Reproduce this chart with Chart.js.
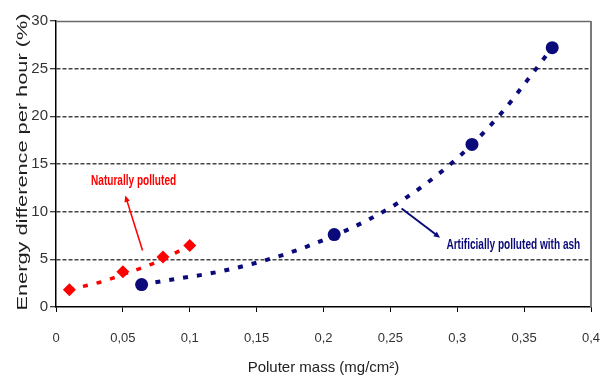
<!DOCTYPE html>
<html>
<head>
<meta charset="utf-8">
<script src="https://cdn.jsdelivr.net/npm/chart.js@4/dist/chart.umd.min.js"></script>
<style>
  html, body { margin: 0; padding: 0; background: #fff; }
  #wrap { width: 608px; height: 383px; position: relative; }
</style>
</head>
<body>
<div id="wrap"><canvas id="c"></canvas></div>
<script>
// Measured points: pollutant mass (mg/cm²) vs. hourly energy difference (%)
const naturalMass   = [0.01, 0.05, 0.08, 0.1];
const naturalEnergy = [1.8, 3.7, 5.25, 6.45];
const ashMass       = [0.064, 0.208, 0.311, 0.371];
const ashEnergy     = [2.35, 7.6, 17.05, 27.2];

// Trend curves through each series
const naturalTrendMass   = [0.01, 0.023, 0.034, 0.044, 0.055, 0.066, 0.078, 0.089, 0.1];
const naturalTrendEnergy = [1.8, 2.26, 2.64, 3.1, 3.65, 4.2, 4.88, 5.65, 6.45];
const ashTrendMass   = [0.064, 0.09, 0.12, 0.15, 0.18, 0.208, 0.23, 0.26, 0.29, 0.311, 0.334, 0.353, 0.371];
const ashTrendEnergy = [2.35, 2.95, 3.65, 4.65, 5.95, 7.5, 8.9, 11.3, 14.4, 17.05, 20.5, 23.9, 27.2];

// Axis ticks
const xTickLabels = ['0', '0,05', '0,1', '0,15', '0,2', '0,25', '0,3', '0,35', '0,4'];
const yTickLabels = ['0', '5', '10', '15', '20', '25', '30'];

const RED = '#ff0000';
const NAVY = '#0a0a7a';
const SANS = '"Liberation Sans", Arial, sans-serif';

const pairs = (xs, ys) => xs.map((v, i) => ({ x: v, y: ys[i] }));

// Callout labels with arrows, placed in data units
const notes = [
  { text: 'Naturally polluted', color: RED, width: 1.6,
    at: [0.058, 13.2], align: 'center', from: [0.0647, 5.93], to: [0.0518, 11.7] },
  { text: 'Artificially polluted with ash', color: NAVY, width: 2,
    at: [0.2919, 6.56], align: 'left', from: [0.2584, 10.34], to: [0.2872, 7.26] }
];

const calloutPlugin = {
  id: 'callouts',
  afterDatasetsDraw(chart) {
    const { ctx, scales: { x, y } } = chart;
    notes.forEach(n => {
      const x0 = x.getPixelForValue(n.from[0]), y0 = y.getPixelForValue(n.from[1]);
      const x1 = x.getPixelForValue(n.to[0]),   y1 = y.getPixelForValue(n.to[1]);
      const ang = Math.atan2(y1 - y0, x1 - x0);
      const head = 7, spread = 0.42;
      ctx.save();
      ctx.strokeStyle = n.color;
      ctx.fillStyle = n.color;
      ctx.lineWidth = n.width;
      ctx.beginPath();
      ctx.moveTo(x0, y0);
      ctx.lineTo(x1 - Math.cos(ang) * head * 0.7, y1 - Math.sin(ang) * head * 0.7);
      ctx.stroke();
      ctx.beginPath();
      ctx.moveTo(x1, y1);
      ctx.lineTo(x1 - head * Math.cos(ang - spread), y1 - head * Math.sin(ang - spread));
      ctx.lineTo(x1 - head * Math.cos(ang + spread), y1 - head * Math.sin(ang + spread));
      ctx.closePath();
      ctx.fill();
      // condensed, slightly tall label text
      ctx.translate(x.getPixelForValue(n.at[0]), y.getPixelForValue(n.at[1]));
      ctx.scale(0.84, 1.25);
      ctx.font = 'bold 12px ' + SANS;
      ctx.textAlign = n.align;
      ctx.textBaseline = 'middle';
      ctx.fillText(n.text, 0, 0);
      ctx.restore();
    });
  }
};

// Top/right frame and the vertical axis title
const framePlugin = {
  id: 'frame',
  beforeDatasetsDraw(chart) {
    const { ctx, chartArea: a } = chart;
    ctx.save();
    ctx.strokeStyle = '#6a6a6a';
    ctx.lineWidth = 1.5;
    ctx.beginPath();
    ctx.moveTo(a.left, a.top + 0.5);
    ctx.lineTo(a.right, a.top + 0.5);
    ctx.stroke();
    ctx.lineWidth = 2;
    ctx.strokeStyle = '#7a7a7a';
    ctx.beginPath();
    ctx.moveTo(a.right, a.top);
    ctx.lineTo(a.right, a.bottom);
    ctx.stroke();
    ctx.restore();
  },
  afterDraw(chart) {
    const { ctx, chartArea: a } = chart;
    ctx.save();
    ctx.translate(22.5, (a.top + a.bottom) / 2 - 2);
    ctx.rotate(-Math.PI / 2);
    ctx.scale(1.45, 1);
    ctx.font = '15px ' + SANS;
    ctx.fillStyle = '#1e1e1e';
    ctx.textAlign = 'center';
    ctx.textBaseline = 'middle';
    ctx.fillText('Energy difference per hour (%)', 0, 0);
    ctx.restore();
  }
};

new Chart(document.getElementById('c'), {
  type: 'scatter',
  data: {
    datasets: [
      { label: 'Naturally polluted', data: pairs(naturalMass, naturalEnergy),
        pointStyle: 'rectRot', pointRadius: 6.5, backgroundColor: RED, borderColor: RED,
        borderWidth: 0, showLine: false, order: 1 },
      { label: 'Artificially polluted with ash', data: pairs(ashMass, ashEnergy),
        pointStyle: 'circle', pointRadius: 6.5, backgroundColor: NAVY, borderColor: NAVY,
        borderWidth: 0, showLine: false, order: 2 },
      { label: 'Naturally polluted trend', data: pairs(naturalTrendMass, naturalTrendEnergy),
        showLine: true, pointRadius: 0, borderColor: RED, borderWidth: 3.5,
        borderDash: [5, 9], cubicInterpolationMode: 'monotone', borderCapStyle: 'butt', order: 3 },
      { label: 'Ash trend', data: pairs(ashTrendMass, ashTrendEnergy),
        showLine: true, pointRadius: 0, borderColor: NAVY, borderWidth: 4,
        borderDash: [5, 9], cubicInterpolationMode: 'monotone', borderCapStyle: 'butt', order: 4 }
    ]
  },
  options: {
    responsive: true,
    maintainAspectRatio: false,
    animation: false,
    devicePixelRatio: 1,
    layout: { padding: { top: 21, right: 17, left: 0, bottom: 0 } },
    plugins: { legend: { display: false }, tooltip: { enabled: false } },
    scales: {
      x: {
        type: 'linear', min: 0, max: 0.4,
        afterFit: s => { s.height = 76; s.paddingLeft = 0; s.paddingRight = 0; },
        ticks: { stepSize: 0.05, padding: 19, color: '#333', maxRotation: 0,
          font: { family: SANS, size: 13 },
          callback: (v, i) => xTickLabels[i] },
        grid: { drawOnChartArea: false, drawTicks: true, tickLength: 5, color: '#000', lineWidth: 1 },
        border: { color: '#000', width: 1.5 },
        title: { display: true, text: 'Poluter mass (mg/cm²)', color: '#222',
          font: { family: SANS, size: 15 }, padding: { top: 0, bottom: 6 } }
      },
      y: {
        type: 'linear', min: 0, max: 30,
        afterFit: s => { s.width = 56; s.paddingTop = 0; s.paddingBottom = 0; },
        ticks: { stepSize: 5, padding: 2, color: '#333',
          font: { family: SANS, size: 15 },
          callback: (v, i) => yTickLabels[i] },
        grid: {
          tickLength: 6, lineWidth: 1.5, tickWidth: 1, tickColor: '#000',
          color: c => (c.tick && (c.tick.value === 0 || c.tick.value === 30)) ? 'rgba(0,0,0,0)' : '#444'
        },
        border: { color: '#000', width: 1.5, dash: [4, 2] }
      }
    }
  },
  plugins: [framePlugin, calloutPlugin]
});
</script>
</body>
</html>
